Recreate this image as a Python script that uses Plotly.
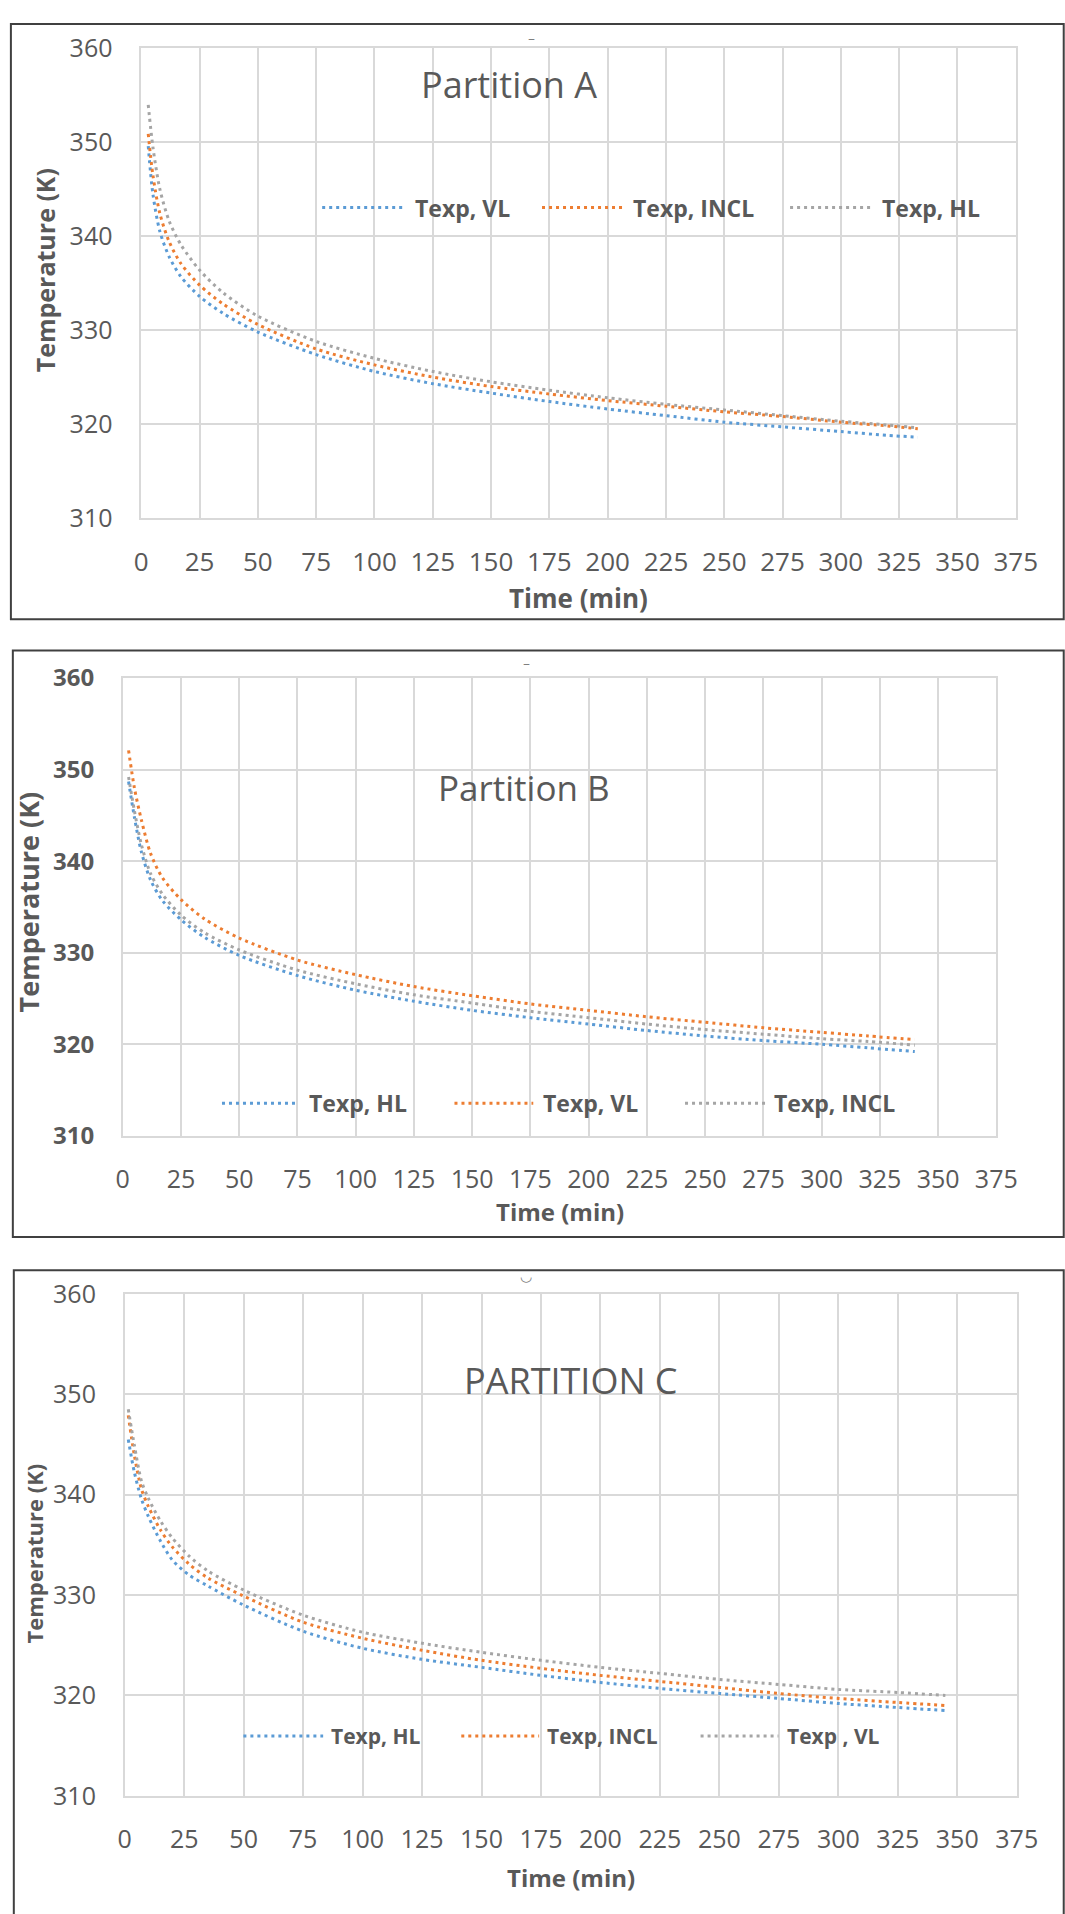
import plotly.graph_objects as go

# ---------------- data ----------------
# Partition A
time_a = [3, 5, 8, 12, 17, 25, 35, 50, 75, 100, 125, 150, 175, 200, 225, 250, 275, 300, 320, 333]
a_vl = [349.6, 344.5, 340.5, 337.8, 335.7, 333.6, 331.8, 329.8, 327.4, 325.6, 324.3, 323.3, 322.4, 321.6, 320.9, 320.2, 319.7, 319.2, 318.8, 318.6]
a_incl = [350.9, 346.5, 342.4, 339.4, 337.1, 334.8, 332.8, 330.6, 328.0, 326.3, 325.0, 324.0, 323.2, 322.5, 321.9, 321.3, 320.8, 320.2, 319.8, 319.5]
a_hl = [354.0, 349.5, 345.0, 341.6, 339.1, 336.4, 334.0, 331.5, 328.8, 327.0, 325.6, 324.5, 323.6, 322.8, 322.1, 321.5, 320.9, 320.3, 319.9, 319.6]

# Partition B
time_b = [2.5, 5, 8, 12, 17, 25, 35, 50, 75, 100, 125, 150, 175, 200, 225, 250, 275, 300, 320, 340]
b_hl = [348.7, 344.8, 341.0, 337.9, 335.7, 333.6, 331.7, 329.7, 327.5, 325.9, 324.7, 323.7, 322.9, 322.2, 321.5, 320.9, 320.4, 320.0, 319.6, 319.2]
b_vl = [352.1, 348.0, 344.5, 340.8, 338.2, 335.8, 333.7, 331.6, 329.2, 327.6, 326.3, 325.3, 324.4, 323.7, 323.0, 322.4, 321.8, 321.3, 320.9, 320.5]
b_incl = [349.2, 345.5, 341.8, 338.6, 336.4, 334.1, 332.2, 330.3, 328.1, 326.6, 325.4, 324.5, 323.6, 322.9, 322.2, 321.6, 321.1, 320.6, 320.3, 319.9]

# Partition C
time_c = [1.5, 4, 7, 10, 15, 20, 27, 35, 50, 75, 100, 125, 150, 175, 200, 225, 250, 275, 300, 325, 345]
c_hl = [345.5, 342.3, 339.6, 337.8, 335.4, 333.5, 332.0, 330.9, 329.0, 326.4, 324.7, 323.6, 322.8, 322.0, 321.3, 320.7, 320.2, 319.7, 319.2, 318.8, 318.5]
c_incl = [347.9, 344.0, 340.6, 338.8, 336.5, 334.8, 333.1, 331.7, 329.9, 327.3, 325.7, 324.5, 323.5, 322.7, 322.0, 321.4, 320.8, 320.2, 319.7, 319.3, 319.0]
c_vl = [348.5, 345.0, 341.4, 339.6, 337.4, 335.7, 333.9, 332.4, 330.5, 328.0, 326.3, 325.2, 324.3, 323.5, 322.8, 322.2, 321.6, 321.1, 320.6, 320.3, 320.0]

x_ticks = [0, 25, 50, 75, 100, 125, 150, 175, 200, 225, 250, 275, 300, 325, 350, 375]
y_ticks = [310, 320, 330, 340, 350, 360]

names_a = ["Texp, VL", "Texp, INCL", "Texp, HL"]
names_b = ["Texp, HL", "Texp, VL", "Texp, INCL"]
names_c = ["Texp, HL", "Texp, INCL", "Texp , VL"]

BLUE, ORANGE, GRAY = "#5B9BD5", "#ED7D31", "#A5A5A5"
TXT = "#595959"
FONT = "Open Sans"
DASH = "3px,4px"

W, H = 1065, 1914


def px(x):
    return x / W


def py(y):
    return 1 - y / H


fig = go.Figure()

panels = [
    ("x", "y", time_a, [a_vl, a_incl, a_hl], names_a),
    ("x2", "y2", time_b, [b_hl, b_vl, b_incl], names_b),
    ("x3", "y3", time_c, [c_hl, c_incl, c_vl], names_c),
]
colors = [BLUE, ORANGE, GRAY]

for xa, ya, t, series, names in panels:
    for s, c, n in zip(series, colors, names):
        fig.add_trace(go.Scatter(
            x=t, y=s, name=n, mode="lines", xaxis=xa, yaxis=ya,
            line=dict(color=c, width=3, dash=DASH, shape="spline", smoothing=0.8),
            showlegend=False, hoverinfo="skip"))

# axis geometry (pixels): left, right, top, bottom
geo = {
    1: dict(l=138, r=1037, t=31, b=509, xfs=26, yfs=25, ybold=False),
    2: dict(l=119, r=1017, t=672, b=1138, xfs=25, yfs=24, ybold=True),
    3: dict(l=121, r=1038, t=1299, b=1810, xfs=25, yfs=25, ybold=False),
}

layout = {}
for i, g in geo.items():
    sx = "" if i == 1 else str(i)
    layout["xaxis" + sx] = dict(
        domain=[px(g["l"]), px(g["r"])], range=[0, 375], anchor="y" + sx,
        tickvals=x_ticks, ticktext=[str(v) for v in x_ticks],
        showgrid=True, gridcolor="#D9D9D9", gridwidth=1.5,
        showline=True, linecolor="#D9D9D9", linewidth=1.5, mirror=True,
        ticks="outside", ticklen=20, tickcolor="rgba(0,0,0,0)",
        tickfont=dict(family=FONT, size=g["xfs"], color=TXT),
        zeroline=False, fixedrange=True)
    yfont = dict(family=FONT, size=g["yfs"], color=TXT)
    if g["ybold"]:
        yfont["weight"] = "bold"
    layout["yaxis" + sx] = dict(
        domain=[py(g["b"]), py(g["t"])], range=[310, 360], anchor="x" + sx,
        tickvals=y_ticks, ticktext=[str(v) for v in y_ticks],
        showgrid=True, gridcolor="#D9D9D9", gridwidth=1.5,
        showline=True, linecolor="#D9D9D9", linewidth=1.5, mirror=True,
        ticks="outside", ticklen=22, tickcolor="rgba(0,0,0,0)",
        tickfont=yfont, zeroline=False, fixedrange=True)

annotations = []
shapes = []

# panel boxes
for x0, y0, y1 in [(4, 6, 612), (6, 644, 1241), (7, 1275, 1960)]:
    shapes.append(dict(type="rect", xref="paper", yref="paper",
                       x0=px(x0), x1=1.02, y0=py(y1), y1=py(y0),
                       line=dict(color="#404040", width=2), fillcolor="rgba(0,0,0,0)"))

# titles
for text, cx, cy, size in [("Partition A", 516, 68, 36), ("Partition B", 531, 783, 35),
                           ("PARTITION C", 580, 1387, 36)]:
    annotations.append(dict(text=text, x=px(cx), y=py(cy), xref="paper", yref="paper",
                            xanchor="center", yanchor="middle", showarrow=False,
                            font=dict(family=FONT, size=size, color=TXT)))

# axis titles
for cx, cy, size in [(587, 590, 26), (568, 1215, 24), (580, 1893, 24)]:
    annotations.append(dict(text="Time (min)", x=px(cx), y=py(cy), xref="paper", yref="paper",
                            xanchor="center", yanchor="middle", showarrow=False,
                            font=dict(family=FONT, size=size, color=TXT, weight="bold")))
for cx, cy, size in [(40, 257, 25), (22, 900, 27), (28, 1563, 22)]:
    annotations.append(dict(text="Temperature (K)", x=px(cx), y=py(cy), xref="paper", yref="paper",
                            xanchor="center", yanchor="middle", showarrow=False, textangle=-90,
                            font=dict(family=FONT, size=size, color=TXT, weight="bold")))

# legends (sample line + label)
legend_geo = [
    (193, [(324, 408, 417), (550, 634, 641), (805, 889, 897)], names_a, 23),
    (1105, [(221, 299, 308), (460, 541, 549), (697, 780, 786)], names_b, 23),
    (1749, [(243, 325, 331), (467, 547, 553), (713, 793, 800)], names_c, 21),
]
for ly, items, names, fs in legend_geo:
    for (x0, x1, tx), n, c in zip(items, names, colors):
        shapes.append(dict(type="line", xref="paper", yref="paper",
                           x0=px(x0), x1=px(x1), y0=py(ly), y1=py(ly),
                           line=dict(color=c, width=3, dash=DASH)))
        annotations.append(dict(text=n, x=px(tx), y=py(ly), xref="paper", yref="paper",
                                xanchor="left", yanchor="middle", showarrow=False,
                                font=dict(family=FONT, size=fs, color=TXT, weight="bold")))

# small cut-off marks at the top of each panel
for cx, cy, ch in [(539, 20, "–"), (534, 657, "–"), (534, 1281, "◡")]:
    annotations.append(dict(text=ch, x=px(cx), y=py(cy), xref="paper", yref="paper",
                            xanchor="center", yanchor="middle", showarrow=False,
                            font=dict(family="DejaVu Sans", size=14, color="#7F7F7F")))

fig.update_layout(
    width=W, height=H, margin=dict(l=0, r=0, t=0, b=0),
    paper_bgcolor="white", plot_bgcolor="white", showlegend=False,
    annotations=annotations, shapes=shapes, **layout)

fig.write_html("out.html")
